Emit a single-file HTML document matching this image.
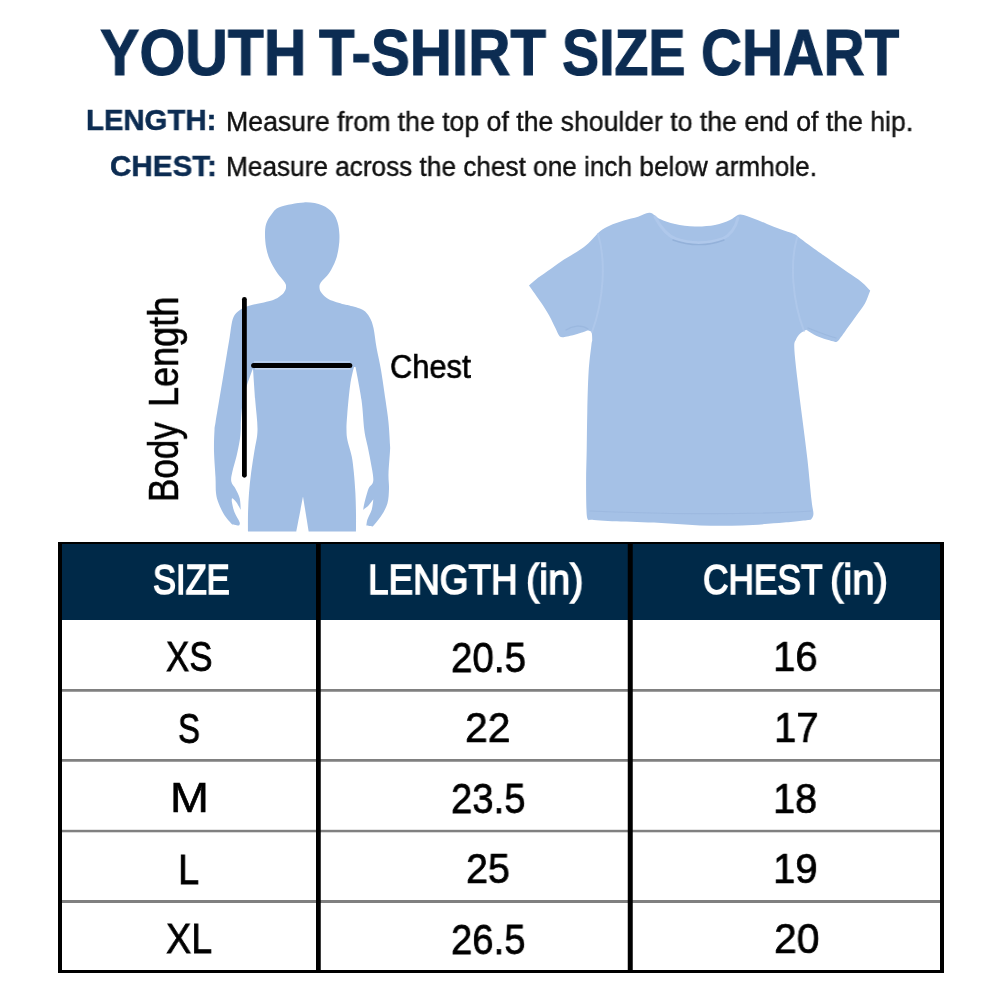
<!DOCTYPE html>
<html><head><meta charset="utf-8"><style>
html,body{margin:0;padding:0;background:#fff;width:1000px;height:1000px;overflow:hidden}
.t{position:absolute;white-space:pre;font-family:"Liberation Sans",sans-serif;transform-origin:0 0;will-change:transform}
</style></head><body>
<svg width="1000" height="1000" viewBox="0 0 1000 1000" style="position:absolute;left:0;top:0">
<path d="M304.00,202.40 C311.00,202.10 317.20,203.43 322.00,205.20 C326.80,206.97 330.20,210.10 332.80,213.00 C335.40,215.90 336.50,219.00 337.60,222.60 C338.70,226.20 339.20,230.60 339.40,234.60 C339.60,238.60 339.40,242.40 338.80,246.60 C338.20,250.80 337.40,255.40 335.80,259.80 C334.20,264.20 331.70,269.20 329.20,273.00 C326.70,276.80 322.40,280.00 320.80,282.60 C319.20,285.20 319.40,286.80 319.60,288.60 C319.80,290.40 320.40,291.60 322.00,293.40 C323.60,295.20 325.60,297.60 329.20,299.40 C332.80,301.20 340.22,303.18 343.60,304.20 C346.98,305.22 346.27,304.53 349.50,305.50 C352.73,306.47 359.63,308.00 363.00,310.00 C366.37,312.00 367.95,314.50 369.70,317.50 C371.45,320.50 372.37,323.00 373.50,328.00 C374.63,333.00 375.25,340.50 376.50,347.50 C377.75,354.50 379.50,361.25 381.00,370.00 C382.50,378.75 384.25,391.27 385.50,400.00 C386.75,408.73 387.75,414.90 388.50,422.40 C389.25,429.90 389.75,440.23 390.00,445.00 C390.25,449.77 390.25,446.15 390.00,451.00 C389.75,455.85 388.67,467.80 388.50,474.10 C388.33,480.40 389.18,483.90 389.00,488.80 C388.82,493.70 388.72,498.95 387.40,503.50 C386.08,508.05 383.55,512.25 381.10,516.10 C378.65,519.95 372.70,526.60 372.70,526.60 C372.70,526.60 366.40,525.60 366.40,525.60 C366.40,525.60 366.62,521.93 367.50,519.30 C368.38,516.67 370.73,513.13 371.70,509.80 C372.67,506.47 373.30,499.30 373.30,499.30 C373.30,499.30 370.17,503.85 368.50,505.60 C366.83,507.35 363.30,509.80 363.30,509.80 C363.30,509.80 363.43,507.00 364.30,503.50 C365.17,500.00 367.00,492.65 368.50,488.80 C370.00,484.95 372.95,484.95 373.30,480.40 C373.65,475.85 371.57,467.27 370.60,461.50 C369.63,455.73 368.55,451.05 367.50,445.80 C366.45,440.55 365.30,437.63 364.30,430.00 C363.30,422.37 362.97,410.50 361.50,400.00 C360.03,389.50 355.50,367.00 355.50,367.00 C355.50,367.00 354.00,367.00 354.00,367.00 C354.00,367.00 351.33,377.00 350.20,385.00 C349.07,393.00 347.82,407.50 347.20,415.00 C346.58,422.50 346.45,425.75 346.50,430.00 C346.55,434.25 346.63,436.12 347.50,440.50 C348.37,444.88 350.65,451.05 351.70,456.30 C352.75,461.55 353.18,465.88 353.80,472.00 C354.42,478.12 355.03,486.00 355.40,493.00 C355.77,500.00 355.90,507.60 356.00,514.00 C356.10,520.40 356.00,531.40 356.00,531.40 C356.00,531.40 308.70,531.40 308.70,531.40 C308.70,531.40 303.00,496.50 303.00,496.50 C303.00,496.50 296.40,531.40 296.40,531.40 C296.40,531.40 248.00,531.40 248.00,531.40 C248.00,531.40 247.83,520.40 248.00,514.00 C248.17,507.60 248.47,500.00 249.00,493.00 C249.53,486.00 250.30,479.00 251.20,472.00 C252.10,465.00 253.35,458.00 254.40,451.00 C255.45,444.00 257.37,438.50 257.50,430.00 C257.63,421.50 255.95,410.25 255.20,400.00 C254.45,389.75 253.00,368.50 253.00,368.50 C253.00,368.50 248.67,379.75 247.00,385.00 C245.33,390.25 244.00,394.17 243.00,400.00 C242.00,405.83 241.38,415.00 241.00,420.00 C240.62,425.00 240.92,426.58 240.70,430.00 C240.48,433.42 240.40,436.12 239.70,440.50 C239.00,444.88 237.73,451.05 236.50,456.30 C235.27,461.55 233.17,467.80 232.30,472.00 C231.43,476.20 230.77,478.70 231.30,481.50 C231.83,484.30 234.10,486.00 235.50,488.80 C236.90,491.60 238.83,494.80 239.70,498.30 C240.57,501.80 240.70,509.80 240.70,509.80 C240.70,509.80 237.90,504.42 236.50,502.50 C235.10,500.58 233.08,498.48 232.30,498.30 C231.52,498.12 231.80,501.40 231.80,501.40 C231.80,501.40 233.08,508.50 234.40,512.00 C235.72,515.50 239.00,520.13 239.70,522.40 C240.40,524.67 238.60,525.60 238.60,525.60 C238.60,525.60 232.30,524.50 232.30,524.50 C232.30,524.50 227.27,519.50 225.00,516.00 C222.73,512.50 220.20,507.33 218.70,503.50 C217.20,499.67 216.53,497.37 216.00,493.00 C215.47,488.63 215.83,484.30 215.50,477.30 C215.17,470.30 214.17,458.88 214.00,451.00 C213.83,443.12 214.25,434.77 214.50,430.00 C214.75,425.23 214.72,427.40 215.50,422.40 C216.28,417.40 217.95,407.48 219.20,400.00 C220.45,392.52 221.75,385.00 223.00,377.50 C224.25,370.00 225.58,361.75 226.70,355.00 C227.82,348.25 228.82,342.50 229.70,337.00 C230.58,331.50 231.12,325.75 232.00,322.00 C232.88,318.25 233.50,316.63 235.00,314.50 C236.50,312.37 238.50,310.70 241.00,309.20 C243.50,307.70 244.75,307.00 250.00,305.50 C255.25,304.00 267.25,301.95 272.50,300.20 C277.75,298.45 279.45,296.53 281.50,295.00 C283.55,293.47 284.05,292.27 284.80,291.00 C285.55,289.73 286.00,288.80 286.00,287.40 C286.00,286.00 286.40,285.20 284.80,282.60 C283.20,280.00 278.90,275.60 276.40,271.80 C273.90,268.00 271.50,263.80 269.80,259.80 C268.10,255.80 267.00,252.00 266.20,247.80 C265.40,243.60 265.00,238.60 265.00,234.60 C265.00,230.60 265.10,227.20 266.20,223.80 C267.30,220.40 269.30,217.00 271.60,214.20 C273.90,211.40 274.60,208.97 280.00,207.00 C285.40,205.03 297.00,202.70 304.00,202.40 Z" fill="#a1bee4"/>
<line x1="244.4" y1="299.3" x2="244.4" y2="475.3" stroke="#000" stroke-width="4.8" stroke-linecap="round"/>
<rect x="254" y="361" width="96" height="1.6" fill="#bcd1ee"/>
<rect x="255" y="368" width="95" height="1.6" fill="#c2d5ef"/>
<line x1="253.6" y1="365.4" x2="349.8" y2="365.4" stroke="#000" stroke-width="5" stroke-linecap="round"/>
<path d="M649.80,212.80 C653.45,213.18 655.80,217.13 660.00,219.00 C664.20,220.87 669.17,222.75 675.00,224.00 C680.83,225.25 688.33,226.33 695.00,226.50 C701.67,226.67 709.17,226.08 715.00,225.00 C720.83,223.92 725.83,221.77 730.00,220.00 C734.17,218.23 736.08,214.65 740.00,214.40 C743.92,214.15 749.00,216.92 753.50,218.50 C758.00,220.08 762.50,222.10 767.00,223.90 C771.50,225.70 776.00,227.62 780.50,229.30 C785.00,230.98 790.63,232.43 794.00,234.00 C797.37,235.57 797.78,236.57 800.70,238.70 C803.62,240.83 808.12,244.32 811.50,246.80 C814.88,249.28 817.17,250.90 821.00,253.60 C824.83,256.30 830.00,259.85 834.50,263.00 C839.00,266.15 843.50,269.35 848.00,272.50 C852.50,275.65 857.80,278.90 861.50,281.90 C865.20,284.90 870.20,290.50 870.20,290.50 C870.20,290.50 867.12,299.60 864.80,303.80 C862.48,308.00 859.13,311.73 856.30,315.70 C853.47,319.67 850.63,323.63 847.80,327.60 C844.97,331.57 841.28,337.10 839.30,339.50 C837.32,341.90 835.90,342.00 835.90,342.00 C835.90,342.00 827.68,339.97 824.00,338.70 C820.32,337.43 816.77,335.90 813.80,334.40 C810.83,332.90 806.20,329.70 806.20,329.70 C806.20,329.70 801.90,331.97 800.20,333.60 C798.50,335.23 796.98,337.10 796.00,339.50 C795.02,341.90 794.05,341.25 794.30,348.00 C794.55,354.75 796.13,368.00 797.50,380.00 C798.87,392.00 800.83,406.67 802.50,420.00 C804.17,433.33 806.00,446.67 807.50,460.00 C809.00,473.33 810.52,490.97 811.50,500.00 C812.48,509.03 813.55,510.90 813.40,514.20 C813.25,517.50 810.60,519.80 810.60,519.80 C810.60,519.80 795.43,521.67 784.00,522.60 C772.57,523.53 756.00,524.93 742.00,525.40 C728.00,525.87 714.67,525.87 700.00,525.40 C685.33,524.93 668.67,523.30 654.00,522.60 C639.33,521.90 622.73,521.67 612.00,521.20 C601.27,520.73 589.60,519.80 589.60,519.80 C589.60,519.80 587.38,521.90 586.80,515.60 C586.22,509.30 586.12,492.93 586.10,482.00 C586.08,471.07 586.50,461.83 586.70,450.00 C586.90,438.17 586.98,424.00 587.30,411.00 C587.62,398.00 587.92,383.00 588.60,372.00 C589.28,361.00 590.80,350.33 591.40,345.00 C592.00,339.67 592.20,342.17 592.20,340.00 C592.20,337.83 592.20,333.60 591.40,332.00 C590.60,330.40 587.40,330.40 587.40,330.40 C587.40,330.40 583.40,332.00 581.00,332.80 C578.60,333.60 575.93,334.47 573.00,335.20 C570.07,335.93 563.40,337.20 563.40,337.20 C563.40,337.20 560.73,337.53 559.40,336.00 C558.07,334.47 557.13,331.47 555.40,328.00 C553.67,324.53 551.40,319.47 549.00,315.20 C546.60,310.93 543.67,306.40 541.00,302.40 C538.33,298.40 535.00,294.00 533.00,291.20 C531.00,288.40 529.00,285.60 529.00,285.60 C529.00,285.60 534.33,280.62 538.00,277.80 C541.67,274.98 546.67,271.73 551.00,268.70 C555.33,265.67 559.67,262.42 564.00,259.60 C568.33,256.78 573.32,254.18 577.00,251.80 C580.68,249.42 583.28,247.68 586.10,245.30 C588.92,242.92 591.52,239.88 593.90,237.50 C596.28,235.12 597.80,232.95 600.40,231.00 C603.00,229.05 605.60,227.53 609.50,225.80 C613.40,224.07 619.03,222.12 623.80,220.60 C628.57,219.08 633.77,218.00 638.10,216.70 C642.43,215.40 646.15,212.42 649.80,212.80 Z" fill="#a5c1e6"/>
<g fill="none" stroke-linecap="round">
<path d="M655,217 C662,230 668,236 676,239 C690,244 708,244 722,239 C731,235 736,226 738,218" stroke="#b3cbec" stroke-width="3" opacity="0.7"/>
<path d="M673,240 C690,246 708,246 724,240" stroke="#8fadd6" stroke-width="1.4" opacity="0.8"/>
<path d="M598,234 C606,260 604,300 592,332" stroke="#b4ccec" stroke-width="2" opacity="0.6"/>
<path d="M797,238 C790,262 792,300 804,331" stroke="#b4ccec" stroke-width="2" opacity="0.6"/>
<path d="M590,511 C650,514 750,515 811,511" stroke="#97b4dc" stroke-width="1.2" opacity="0.6"/>
<path d="M566,330 C572,326 582,324 588,329" stroke="#95b2da" stroke-width="1.2" opacity="0.6"/>
<path d="M808,328 C818,332 828,336 836,338" stroke="#95b2da" stroke-width="1.2" opacity="0.6"/>
</g>
<rect x="58" y="542" width="886" height="78" fill="#002948"/>
<rect x="62" y="689" width="878" height="2.75" fill="#808080"/>
<rect x="62" y="759" width="878" height="2.75" fill="#808080"/>
<rect x="62" y="829.8" width="878" height="2.5" fill="#808080"/>
<rect x="62" y="900" width="878" height="3" fill="#808080"/>
<rect x="58" y="542" width="4" height="431" fill="#000"/>
<rect x="940" y="542" width="4" height="431" fill="#000"/>
<rect x="58" y="542" width="886" height="2" fill="#000"/>
<rect x="58" y="970" width="886" height="3" fill="#000"/>
<rect x="316" y="542" width="4.75" height="431" fill="#000"/>
<rect x="627.75" y="542" width="5" height="431" fill="#000"/>
</svg>
<div class="t" style="left:100.32px;top:20.95px;font-size:64.68px;line-height:64.68px;font-weight:700;color:#0c2c52;-webkit-text-stroke:1.10px #0c2c52;transform:scaleX(0.9113)">YOUTH</div>
<div class="t" style="left:318.92px;top:20.95px;font-size:64.68px;line-height:64.68px;font-weight:700;color:#0c2c52;-webkit-text-stroke:1.11px #0c2c52;transform:scaleX(0.9029)">T-SHIRT</div>
<div class="t" style="left:562.23px;top:20.95px;font-size:64.68px;line-height:64.68px;font-weight:700;color:#0c2c52;-webkit-text-stroke:1.16px #0c2c52;transform:scaleX(0.8600)">SIZE</div>
<div class="t" style="left:701.23px;top:20.95px;font-size:64.68px;line-height:64.68px;font-weight:700;color:#0c2c52;-webkit-text-stroke:1.14px #0c2c52;transform:scaleX(0.8761)">CHART</div>
<div class="t" style="left:86.20px;top:104.93px;font-size:29.80px;line-height:29.80px;font-weight:700;color:#0c2c52;-webkit-text-stroke:0.51px #0c2c52;transform:scaleX(0.9841)">LENGTH:</div>
<div class="t" style="left:110.27px;top:151.33px;font-size:29.80px;line-height:29.80px;font-weight:700;color:#0c2c52;-webkit-text-stroke:0.50px #0c2c52;transform:scaleX(0.9933)">CHEST:</div>
<div class="t" style="left:226.07px;top:108.66px;font-size:26.74px;line-height:26.74px;font-weight:400;color:#111;-webkit-text-stroke:0.40px #111;transform:scaleX(0.9965)">Measure from the top of the shoulder to the end of the hip.</div>
<div class="t" style="left:226.10px;top:154.46px;font-size:26.74px;line-height:26.74px;font-weight:400;color:#111;-webkit-text-stroke:0.41px #111;transform:scaleX(0.9795)">Measure across the chest one inch below armhole.</div>
<div class="t" style="left:390.26px;top:349.72px;font-size:33.28px;line-height:33.28px;font-weight:400;color:#000;-webkit-text-stroke:0.65px #000;transform:scaleX(0.9260)">Chest</div>
<div class="t" style="left:143.27px;top:501.50px;font-size:41.86px;line-height:41.86px;font-weight:400;color:#000;-webkit-text-stroke:0.60px #000;transform:rotate(-90deg) scaleX(0.8361)">Body</div>
<div class="t" style="left:143.27px;top:407.19px;font-size:41.86px;line-height:41.86px;font-weight:400;color:#000;-webkit-text-stroke:0.60px #000;transform:rotate(-90deg) scaleX(0.8620)">Length</div>
<div class="t" style="left:152.73px;top:559.00px;font-size:42.30px;line-height:42.30px;font-weight:400;color:#fff;-webkit-text-stroke:1.72px #fff;transform:scaleX(0.8153)">SIZE</div>
<div class="t" style="left:367.65px;top:559.00px;font-size:42.30px;line-height:42.30px;font-weight:400;color:#fff;-webkit-text-stroke:1.60px #fff;transform:scaleX(0.8724)">LENGTH</div>
<div class="t" style="left:526.41px;top:559.00px;font-size:42.30px;line-height:42.30px;font-weight:400;color:#fff;-webkit-text-stroke:1.49px #fff;transform:scaleX(0.9403)">(in)</div>
<div class="t" style="left:702.54px;top:559.00px;font-size:42.30px;line-height:42.30px;font-weight:400;color:#fff;-webkit-text-stroke:1.68px #fff;transform:scaleX(0.8339)">CHEST</div>
<div class="t" style="left:830.30px;top:559.00px;font-size:42.30px;line-height:42.30px;font-weight:400;color:#fff;-webkit-text-stroke:1.48px #fff;transform:scaleX(0.9475)">(in)</div>
<div class="t" style="left:165.81px;top:636.42px;font-size:41.86px;line-height:41.86px;font-weight:400;color:#000;-webkit-text-stroke:0.84px #000;transform:scaleX(0.8304)">XS</div>
<div class="t" style="left:451.22px;top:636.82px;font-size:41.86px;line-height:41.86px;font-weight:400;color:#000;-webkit-text-stroke:0.76px #000;transform:scaleX(0.9207)">20.5</div>
<div class="t" style="left:772.63px;top:636.42px;font-size:41.86px;line-height:41.86px;font-weight:400;color:#000;-webkit-text-stroke:0.73px #000;transform:scaleX(0.9604)">16</div>
<div class="t" style="left:178.20px;top:707.92px;font-size:41.86px;line-height:41.86px;font-weight:400;color:#000;-webkit-text-stroke:0.89px #000;transform:scaleX(0.7879)">S</div>
<div class="t" style="left:465.31px;top:707.22px;font-size:41.86px;line-height:41.86px;font-weight:400;color:#000;-webkit-text-stroke:0.72px #000;transform:scaleX(0.9768)">22</div>
<div class="t" style="left:773.64px;top:707.42px;font-size:41.86px;line-height:41.86px;font-weight:400;color:#000;-webkit-text-stroke:0.73px #000;transform:scaleX(0.9580)">17</div>
<div class="t" style="left:169.61px;top:777.42px;font-size:41.86px;line-height:41.86px;font-weight:400;color:#000;-webkit-text-stroke:0.63px #000;transform:scaleX(1.1160)">M</div>
<div class="t" style="left:451.44px;top:777.72px;font-size:41.86px;line-height:41.86px;font-weight:400;color:#000;-webkit-text-stroke:0.77px #000;transform:scaleX(0.9142)">23.5</div>
<div class="t" style="left:772.67px;top:777.72px;font-size:41.86px;line-height:41.86px;font-weight:400;color:#000;-webkit-text-stroke:0.74px #000;transform:scaleX(0.9483)">18</div>
<div class="t" style="left:177.80px;top:848.72px;font-size:41.86px;line-height:41.86px;font-weight:400;color:#000;-webkit-text-stroke:0.77px #000;transform:scaleX(0.9121)">L</div>
<div class="t" style="left:466.37px;top:848.22px;font-size:41.86px;line-height:41.86px;font-weight:400;color:#000;-webkit-text-stroke:0.74px #000;transform:scaleX(0.9438)">25</div>
<div class="t" style="left:772.64px;top:848.42px;font-size:41.86px;line-height:41.86px;font-weight:400;color:#000;-webkit-text-stroke:0.73px #000;transform:scaleX(0.9580)">19</div>
<div class="t" style="left:166.22px;top:918.42px;font-size:41.86px;line-height:41.86px;font-weight:400;color:#000;-webkit-text-stroke:0.78px #000;transform:scaleX(0.9020)">XL</div>
<div class="t" style="left:451.44px;top:918.62px;font-size:41.86px;line-height:41.86px;font-weight:400;color:#000;-webkit-text-stroke:0.77px #000;transform:scaleX(0.9142)">26.5</div>
<div class="t" style="left:773.80px;top:917.92px;font-size:41.86px;line-height:41.86px;font-weight:400;color:#000;-webkit-text-stroke:0.72px #000;transform:scaleX(0.9790)">20</div>
</body></html>
